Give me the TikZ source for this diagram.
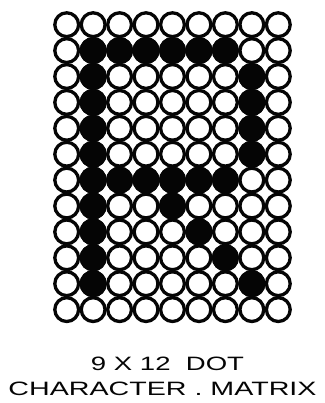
\documentclass[tikz,border=0pt]{standalone}
\usepackage{graphicx}
\usepackage{fontspec}
\setmainfont{Liberation Sans}
\usepackage{tikz}
\definecolor{dotInk}{HTML}{050505}
\definecolor{dotPaper}{HTML}{FFFFFF}

\begin{document}
\begin{tikzpicture}[x=1pt, y=-1pt, line cap=round, line join=round]

\useasboundingbox[fill=dotPaper] (0,0) rectangle (324,403);

\def\colW{26.45}
\def\rowH{25.9}
\def\xA{66.7}
\def\yA{24.7}
\def\dotR{11.9}

% cells of the letter, column/row
\def\setcells{2/2,3/2,4/2,5/2,6/2,7/2,
  2/3,8/3, 2/4,8/4, 2/5,8/5, 2/6,8/6,
  2/7,3/7,4/7,5/7,6/7,7/7,
  2/8,5/8, 2/9,6/9, 2/10,7/10, 2/11,8/11}

\tikzset{
  dotoff/.style={draw=dotInk, line width=3.3pt, fill=dotPaper},
  doton/.style={draw=dotInk, line width=3.3pt, fill=dotInk},
  caption/.style={dotInk, inner sep=0pt, anchor=base},
}

% 9 x 12 grid
\foreach \r in {1,...,12}
  \foreach \c in {1,...,9}
    \draw[dotoff] ({\xA+(\c-1)*\colW},{\yA+(\r-1)*\rowH}) circle[radius=\dotR];

% letter
\foreach \c/\r in \setcells
  \draw[doton] ({\xA+(\c-1)*\colW},{\yA+(\r-1)*\rowH}) circle[radius=\dotR];

% caption
\node[caption] (capsize) at (167.5,370.5) {\resizebox{153pt}{13.5pt}{9 X 12\ \ DOT}};
\node[caption] (capname) at (162.5,395) {\resizebox{308pt}{13.5pt}{CHARACTER . MATRIX}};

\end{tikzpicture}
\end{document}
